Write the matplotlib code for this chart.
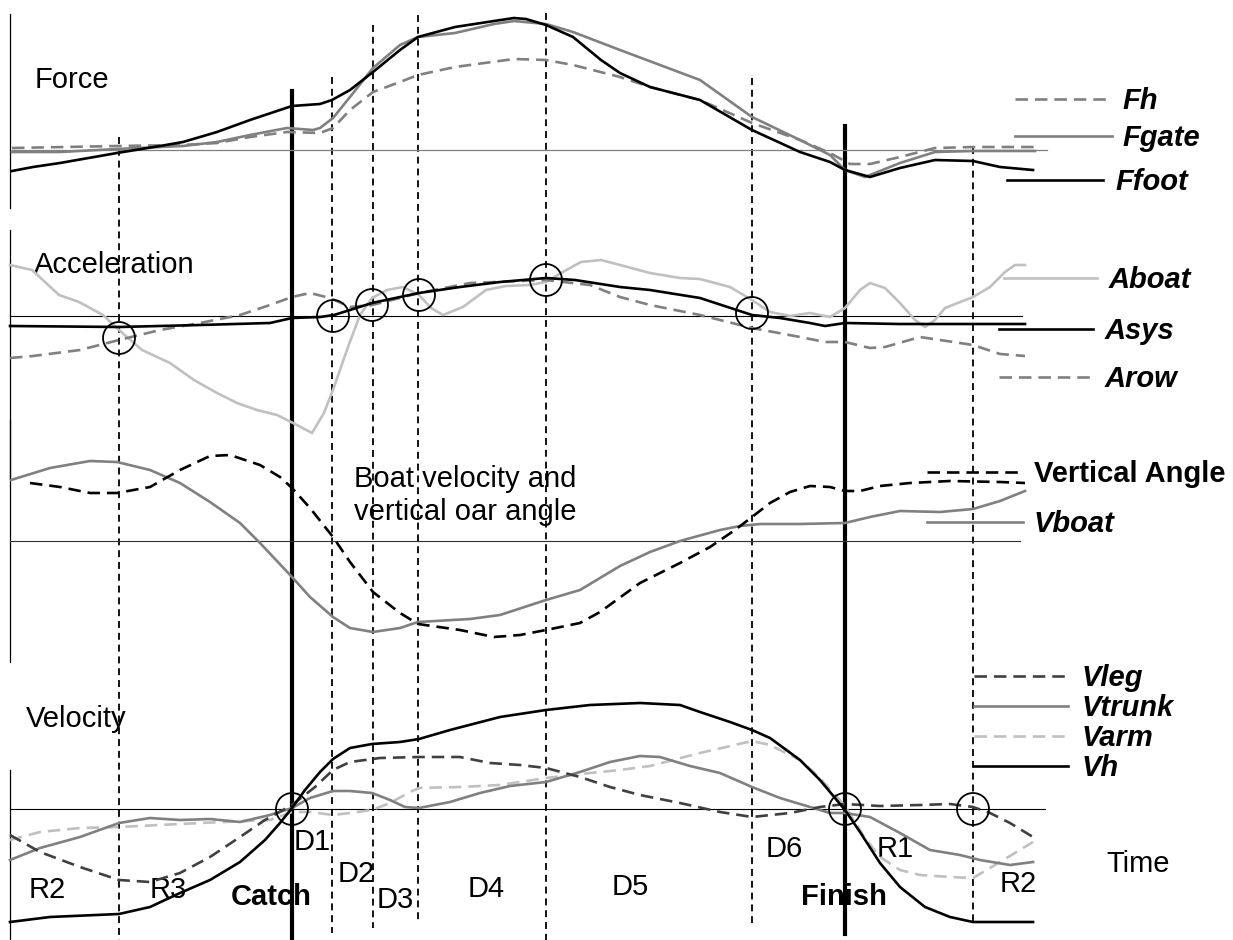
"""Rowing stroke schematic: force, acceleration, boat velocity / oar angle and velocity traces."""

import matplotlib
matplotlib.use('Agg')
import matplotlib.pyplot as plt

plt.rcParams['font.family'] = ['Liberation Sans', 'DejaVu Sans']
plt.rcParams['lines.scale_dashes'] = False

W, H = 1233, 940

# stroke phase boundaries (time units along the x axis)
catch_t = 292
finish_t = 845
phase_t = [119, 332, 373, 418, 546, 752, 973]
phase_top = [137, 77, 25, 15, 13, 78, 147]
phase_bottom = [940, 933, 928, 920, 940, 923, 925]

# ---- Force panel ----
ffoot_t = [12, 33, 60, 117, 160, 183, 217, 250, 292, 320, 332, 350, 373, 400, 418, 455, 494, 514,
           526, 546, 573, 601, 620, 650, 700, 752, 800, 830, 845, 870, 900, 935, 973, 1000, 1033]
ffoot = [-21, -17, -13, -3, 4, 8, 18, 30, 44, 46, 50, 60, 78, 100, 113, 123, 129, 132,
         131, 125, 113, 90, 77, 63, 50, 20, -2, -12, -20, -27, -18, -10, -11, -17, -20]
fgate_t = [12, 60, 117, 160, 183, 217, 250, 287, 313, 320, 333, 350, 373, 400, 418, 455, 494, 514,
           546, 573, 620, 700, 752, 800, 830, 845, 865, 900, 935, 973, 1035]
fgate = [-2, -2, 1, 3, 4, 8, 15, 22, 20, 22, 32, 53, 82, 105, 113, 117, 126, 129,
         126, 118, 100, 70, 33, 10, -5, -20, -27, -13, -2, -1, -1]
fh_t = [12, 117, 183, 217, 250, 287, 320, 333, 350, 373, 400, 418, 455, 514, 546, 573, 620, 650,
        700, 752, 800, 830, 850, 870, 900, 935, 973, 1040]
fh = [2, 4, 5, 7, 13, 18, 17, 22, 40, 58, 68, 75, 83, 91, 90, 85, 73, 63,
      50, 27, 10, -3, -14, -14, -7, 2, 3, 3]

# ---- Acceleration panel ----
aboat_t = [10, 32, 59, 79, 103, 119, 142, 170, 194, 217, 237, 257, 277, 293, 312, 324, 334, 348,
           360, 372, 387, 403, 419, 431, 443, 463, 486, 506, 530, 546, 561, 581, 601, 620, 650, 680,
           700, 730, 752, 770, 790, 810, 830, 845, 860, 870, 885, 900, 915, 925, 935, 945, 973, 990,
           1005, 1015, 1025]
aboat = [51, 46, 21, 14, 1, -14, -34, -47, -64, -77, -87, -94, -99, -107, -117, -97, -71, -31,
         1, 18, 26, 29, 21, 8, 1, 9, 26, 30, 31, 34, 43, 54, 56, 51, 43, 38,
         37, 29, 16, 4, 0, 3, -1, 8, 26, 33, 28, 13, -4, -11, -4, 8, 19, 29,
         44, 51, 51]
asys_t = [10, 119, 200, 270, 292, 320, 334, 350, 372, 400, 419, 460, 500, 546, 575, 620, 650, 700,
          752, 780, 810, 825, 845, 900, 973, 1025]
asys = [-10, -11, -9, -7, -2, -1, 1, 6, 13, 19, 23, 29, 34, 38, 36, 29, 26, 18,
        1, -2, -7, -10, -7, -8, -8, -8]
arow_t = [10, 33, 80, 119, 160, 200, 240, 270, 292, 310, 330, 350, 372, 400, 419, 470, 546, 590,
          620, 650, 700, 752, 800, 825, 845, 870, 885, 920, 940, 973, 1000, 1025]
arow = [-42, -40, -34, -24, -14, -7, 1, 11, 19, 23, 18, 9, 11, 18, 23, 33, 36, 31,
        19, 11, 1, -12, -21, -26, -26, -32, -31, -21, -24, -29, -38, -40]
acc_marks_t = [119, 333, 372, 419, 546, 752]
acc_marks = [-22, 0, 11, 21, 36, 3]

# ---- Boat velocity and vertical oar angle panel ----
vboat_t = [11, 50, 90, 117, 150, 180, 210, 240, 260, 292, 310, 333, 350, 373, 400, 418, 470, 500,
           546, 580, 620, 650, 680, 720, 740, 760, 800, 845, 870, 900, 940, 973, 1000, 1025]
vboat = [61, 73, 80, 79, 71, 58, 39, 18, -2, -36, -56, -76, -87, -91, -87, -81, -78, -74,
         -59, -49, -25, -11, 0, 11, 15, 17, 17, 18, 24, 30, 29, 32, 40, 50]
vangle_t = [30, 60, 90, 117, 150, 180, 210, 230, 260, 280, 292, 310, 333, 350, 373, 400, 418, 460,
            494, 520, 546, 580, 600, 640, 680, 710, 735, 752, 770, 790, 810, 830, 845, 860, 880,
            910, 950, 1000, 1025]
vangle = [58, 54, 48, 48, 54, 71, 85, 86, 76, 64, 53, 33, 4, -21, -51, -72, -83, -89,
          -96, -94, -89, -82, -71, -42, -22, -6, 11, 24, 38, 49, 55, 54, 50, 50, 55,
          58, 60, 59, 58]

# ---- Velocity panel ----
vh_t = [10, 50, 119, 150, 180, 210, 240, 265, 280, 292, 305, 320, 333, 350, 372, 400, 419, 450,
        500, 546, 590, 640, 680, 700, 730, 752, 770, 800, 820, 845, 860, 880, 900, 925, 950, 973, 1033]
vh = [-113, -108, -105, -98, -84, -71, -53, -31, -14, 1, 19, 37, 50, 61, 65, 67, 70, 79,
      92, 99, 104, 106, 104, 97, 87, 79, 71, 49, 29, -1, -23, -54, -78, -98, -108, -113, -113]
vleg_t = [10, 40, 80, 119, 150, 180, 210, 240, 265, 292, 315, 333, 350, 380, 419, 460, 490, 520,
          546, 580, 610, 640, 680, 720, 752, 790, 820, 845, 880, 920, 950, 973, 990, 1010, 1033]
vleg = [-26, -43, -58, -71, -73, -64, -48, -28, -11, 4, 22, 39, 47, 51, 52, 52, 46, 44,
        41, 32, 22, 14, 6, -3, -8, -4, 2, 5, 3, 4, 5, 2, -4, -14, -28]
vtrunk_t = [10, 40, 80, 119, 150, 180, 210, 240, 270, 292, 310, 333, 350, 372, 390, 405, 419, 450,
            480, 510, 546, 580, 610, 640, 660, 690, 720, 752, 780, 810, 830, 845, 870, 900, 930,
            960, 980, 1010, 1033]
vtrunk = [-51, -39, -28, -14, -9, -11, -10, -13, -6, 1, 11, 18, 18, 16, 9, 2, 1, 7,
          16, 23, 27, 37, 47, 53, 52, 43, 36, 22, 11, 2, -4, -4, -8, -24, -41,
          -46, -51, -56, -53]
varm_t = [10, 40, 80, 119, 200, 270, 292, 310, 333, 350, 372, 390, 410, 419, 460, 500, 546, 590,
          620, 650, 700, 752, 770, 800, 820, 845, 865, 880, 900, 920, 950, 973, 1000, 1033]
varm = [-31, -23, -19, -18, -14, -11, -3, -3, -6, -4, -1, 6, 17, 21, 22, 24, 31, 36,
        39, 43, 56, 68, 64, 49, 31, 3, -29, -48, -61, -66, -68, -69, -53, -33]
vel_marks_t = [292, 845, 973]
vel_marks = [0, 0, 0]

GRAY = '#808080'
LIGHT = '#c0c0c0'
DARK = '#404040'
DASH = (0, (9, 5))
FS = 21

fig = plt.figure(figsize=(W / 100, H / 100), dpi=100)

# base layer in picture units for frame lines and text
base = fig.add_axes([0, 0, 1, 1])
base.set_xlim(0, W)
base.set_ylim(H, 0)
base.axis('off')


def panel(y0):
    a = fig.add_axes([0, 0, 1, 1])
    a.set_xlim(0, W)
    a.set_ylim(y0 - H, y0)
    a.axis('off')
    a.patch.set_visible(False)
    return a


# left axis pieces
for top, bottom in [(14, 208), (230, 478), (420, 662), (770, 940)]:
    base.plot([10, 10], [top, bottom], color='black', lw=0.9)

# phase lines
for t, top, bottom in zip(phase_t, phase_top, phase_bottom):
    base.plot([t, t], [top, bottom], color='black', lw=1.3, linestyle=(0, (5, 3.5)))
base.plot([catch_t, catch_t], [91, 938], color='black', lw=3)
base.plot([finish_t, finish_t], [126, 934], color='black', lw=3)

# Force
axf = panel(150)
axf.plot([12, 1047], [0, 0], color=GRAY, lw=0.9)
axf.plot(fh_t, fh, color=GRAY, lw=1.9, linestyle=DASH)
axf.plot(fgate_t, fgate, color=GRAY, lw=1.9)
axf.plot(ffoot_t, ffoot, color='black', lw=1.9)

# Acceleration
axa = panel(316)
axa.plot([10, 1022], [0, 0], color='black', lw=0.8)
axa.plot(aboat_t, aboat, color=LIGHT, lw=1.9)
axa.plot(arow_t, arow, color=GRAY, lw=1.9, linestyle=DASH)
axa.plot(asys_t, asys, color='black', lw=1.9)
axa.scatter(acc_marks_t, acc_marks, s=530, facecolors='none', edgecolors='black', linewidths=1.3,
            zorder=5)

# Boat velocity / vertical angle
axb = panel(541)
axb.plot([10, 1020], [0, 0], color='#303030', lw=0.8)
axb.plot(vboat_t, vboat, color=GRAY, lw=1.9)
axb.plot(vangle_t, vangle, color='black', lw=1.9, linestyle=DASH)

# Velocity
axv = panel(809)
axv.plot([10, 1045], [0, 0], color='black', lw=0.8)
axv.plot(varm_t, varm, color=LIGHT, lw=1.9, linestyle=DASH)
axv.plot(vtrunk_t, vtrunk, color=GRAY, lw=1.9)
axv.plot(vleg_t, vleg, color=DARK, lw=1.9, linestyle=DASH)
axv.plot(vh_t, vh, color='black', lw=1.9)
axv.scatter(vel_marks_t, vel_marks, s=530, facecolors='none', edgecolors='black', linewidths=1.3,
            zorder=5)

# legends: (label, x0, x1, y, colour, style, text x, bold+italic)
legend_rows = [
    ('Fh', 1015, 1112, 99, GRAY, DASH, 1122, True),
    ('Fgate', 1015, 1112, 136, GRAY, '-', 1122, True),
    ('Ffoot', 1007, 1103, 180, 'black', '-', 1115, True),
    ('Aboat', 1004, 1097, 278, LIGHT, '-', 1109, True),
    ('Asys', 999, 1093, 329, 'black', '-', 1105, True),
    ('Arow', 999, 1093, 377, GRAY, DASH, 1105, True),
    ('Vertical Angle', 927, 1024, 472, 'black', DASH, 1034, False),
    ('Vboat', 927, 1023, 522, GRAY, '-', 1034, True),
    ('Vleg', 974, 1068, 676, DARK, DASH, 1082, True),
    ('Vtrunk', 974, 1068, 706, GRAY, '-', 1082, True),
    ('Varm', 974, 1068, 736, LIGHT, DASH, 1082, True),
    ('Vh', 974, 1068, 766, 'black', '-', 1082, True),
]
for label, x0, x1, y, col, ls, tx, ital in legend_rows:
    base.plot([x0, x1], [y, y], color=col, lw=1.9, linestyle=ls)
    base.text(tx, y + 10, label, fontsize=FS, fontweight='bold',
              fontstyle='italic' if ital else 'normal', ha='left', va='baseline')

# panel titles
base.text(35, 88, 'Force', fontsize=FS, ha='left', va='baseline')
base.text(34, 273, 'Acceleration', fontsize=FS, ha='left', va='baseline')
base.text(26, 727, 'Velocity', fontsize=FS, ha='left', va='baseline')
base.text(354, 487, 'Boat velocity and', fontsize=FS, ha='left', va='baseline')
base.text(354, 520, 'vertical oar angle', fontsize=FS, ha='left', va='baseline')

# phase labels
phase_labels = [('R2', 47, 898, False), ('R3', 168, 898, False), ('Catch', 271, 905, True),
                ('D1', 312, 850, False), ('D2', 356, 882, False), ('D3', 395, 908, False),
                ('D4', 486, 897, False), ('D5', 630, 895, False), ('D6', 784, 857, False),
                ('Finish', 844, 905, True), ('R1', 895, 857, False), ('R2', 1018, 892, False),
                ('Time', 1138, 872, False)]
for label, x, y, bold in phase_labels:
    base.text(x, y, label, fontsize=FS, fontweight='bold' if bold else 'normal',
              ha='center', va='baseline')

fig.savefig('out.png', dpi=100)
